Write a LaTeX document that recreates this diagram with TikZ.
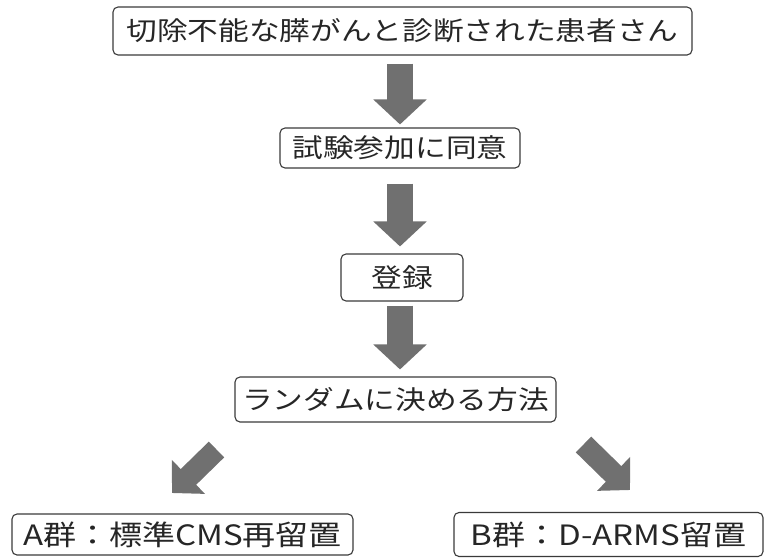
\documentclass[tikz,border=0pt]{standalone}
\usepackage{fontspec}
\newfontfamily\jp[FakeStretch=1.18]{Noto Sans CJK JP}
\usetikzlibrary{arrows.meta}
\definecolor{boxline}{HTML}{3A3A3A}
\definecolor{arrowfill}{HTML}{707070}
\begin{document}
\begin{tikzpicture}[x=1pt,y=-1pt,
  box/.style={draw=boxline, line width=1.1pt, rounded corners=5pt, inner sep=0pt,
    font=\jp\fontsize{26}{26}\selectfont, text=black!85},
  bigbox/.style={box, font=\jp\fontsize{28}{28}\selectfont},
  varrow/.style={draw=arrowfill, line width=26pt, -{Triangle[length=25pt,width=52pt]}},
  darrow/.style={draw=arrowfill, line width=22pt, -{Triangle[length=23pt,width=46pt]}}]
\useasboundingbox (0,0) rectangle (771,558);
\node[box, minimum width=579pt, minimum height=48pt] (b1) at (402.5,31) {切除不能な膵がんと診断された患者さん};
\node[box, minimum width=240pt, minimum height=40pt] (b2) at (400,148) {試験参加に同意};
\node[box, minimum width=122pt, minimum height=47pt] (b3) at (402,277.5) {登録};
\node[box, minimum width=321pt, minimum height=45pt] (b4) at (395.5,399.5) {ランダムに決める方法};
\node[bigbox, minimum width=341pt, minimum height=41pt] (bA) at (182.5,534.5) {A群：標準CMS再留置};
\node[bigbox, minimum width=309pt, minimum height=44pt] (bB) at (608.5,534.5) {B群：D-ARMS留置};
\coordinate (ax) at (400,0);
\draw[varrow, shorten <=8pt, shorten >=3pt] (b1.south -| ax) -- (b2.north -| ax);
\draw[varrow, shorten <=15pt, shorten >=7pt] (b2.south -| ax) -- (b3.north -| ax);
\draw[varrow, shorten <=4pt, shorten >=7pt] (b3.south -| ax) -- (b4.north -| ax);
\coordinate (aS) at (216.5,449.5);
\coordinate (aT) at (172,493);
\coordinate (bS) at (583.5,444.5);
\coordinate (bT) at (630,490);
\draw[darrow] (aS) -- (aT);
\draw[darrow] (bS) -- (bT);
\end{tikzpicture}
\end{document}
